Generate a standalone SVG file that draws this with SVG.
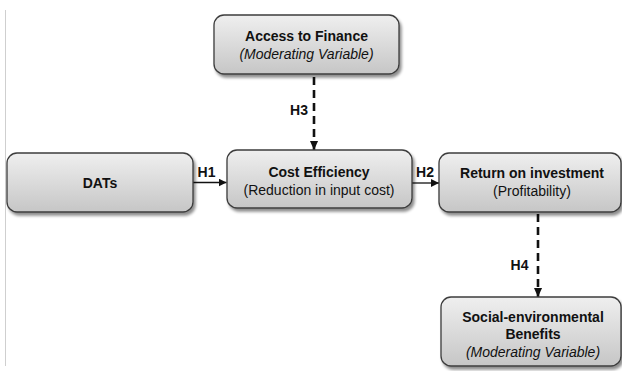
<svg xmlns="http://www.w3.org/2000/svg" width="622" height="371" viewBox="0 0 622 371">
  <defs>
    <linearGradient id="boxFill" x1="0" y1="0" x2="0" y2="1">
      <stop offset="0" stop-color="#efefef"/>
      <stop offset="1" stop-color="#c6c6c6"/>
    </linearGradient>
    <filter id="shadow" x="-10%" y="-20%" width="125%" height="150%">
      <feGaussianBlur in="SourceAlpha" stdDeviation="1.6"/>
      <feOffset dx="1.5" dy="2.5" result="b"/>
      <feComponentTransfer><feFuncA type="linear" slope="0.45"/></feComponentTransfer>
      <feMerge><feMergeNode/><feMergeNode in="SourceGraphic"/></feMerge>
    </filter>
    <marker id="arrow" viewBox="0 0 10 10" refX="10" refY="5" markerWidth="8" markerHeight="8" markerUnits="userSpaceOnUse" orient="auto">
      <path d="M0,0 L10,5 L0,10 Z" fill="#111"/>
    </marker>
    <marker id="arrowD" viewBox="0 0 10 10" refX="10" refY="5" markerWidth="9" markerHeight="9" markerUnits="userSpaceOnUse" orient="auto">
      <path d="M0,0.5 L10,5 L0,9.5 Z" fill="#111"/>
    </marker>
  </defs>
  <style>
    .box { fill: url(#boxFill); stroke: #3c3c3c; stroke-width: 1.3; filter: url(#shadow); }
    text { font-family: "Liberation Sans", Arial, sans-serif; font-size: 14px; fill: #111; text-anchor: middle; }
    .b { font-weight: bold; }
    .i { font-style: italic; }
    .solid { stroke: #111; stroke-width: 1.3; fill: none; marker-end: url(#arrow); }
    .dash { stroke: #111; stroke-width: 2.6; fill: none; stroke-dasharray: 8 5; marker-end: url(#arrowD); }
  </style>

  <rect width="622" height="371" fill="#ffffff"/>
  <line x1="5.5" y1="10" x2="5.5" y2="366" stroke="#cfcfcf" stroke-width="1"/>

  <g id="connectors">
    <line class="solid" x1="193" y1="182.5" x2="226.5" y2="182.5"/>
    <text class="b" x="206.5" y="177">H1</text>
    <line class="solid" x1="412" y1="183" x2="439" y2="183"/>
    <text class="b" x="425" y="177">H2</text>
    <line class="dash" x1="314" y1="77" x2="314" y2="150"/>
    <text class="b" x="299" y="115">H3</text>
    <line class="dash" x1="538" y1="214" x2="538" y2="297"/>
    <text class="b" x="519.5" y="270">H4</text>
  </g>

  <g id="access-to-finance">
    <rect class="box" x="214" y="15" width="185" height="59" rx="10"/>
    <text class="b" x="306.5" y="41">Access to Finance</text>
    <text class="i" x="306.5" y="59">(Moderating Variable)</text>
  </g>

  <g id="dats">
    <rect class="box" x="7" y="153" width="186" height="59" rx="10"/>
    <text class="b" x="100" y="188">DATs</text>
  </g>

  <g id="cost-efficiency">
    <rect class="box" x="227" y="150" width="185" height="58" rx="10"/>
    <text class="b" x="319" y="177">Cost Efficiency</text>
    <text x="319" y="195">(Reduction in input cost)</text>
  </g>

  <g id="return-on-investment">
    <rect class="box" x="439" y="153" width="182" height="59" rx="10"/>
    <text class="b" x="532" y="178">Return on investment</text>
    <text x="532" y="196">(Profitability)</text>
  </g>

  <g id="social-environmental">
    <rect class="box" x="441" y="297" width="180" height="69" rx="10"/>
    <text class="b" x="533" y="322">Social-environmental</text>
    <text class="b" x="533" y="339">Benefits</text>
    <text class="i" x="533" y="357">(Moderating Variable)</text>
  </g>
</svg>
